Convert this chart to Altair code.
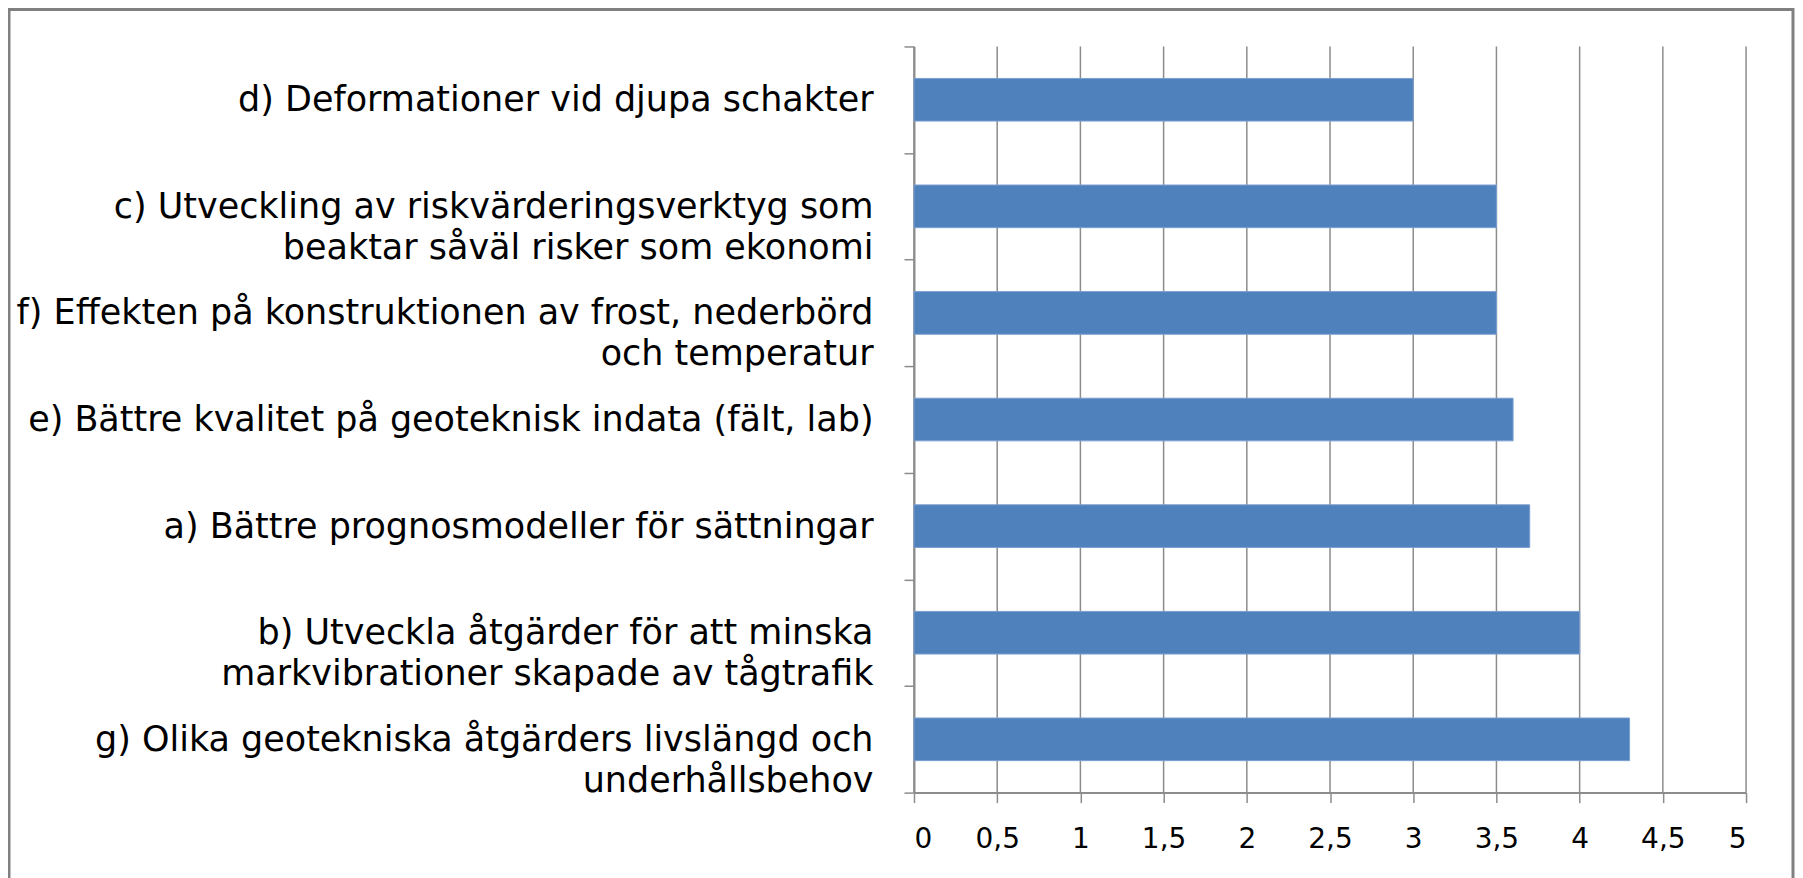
import altair as alt
import pandas as pd

categories = [
    "d) Deformationer vid djupa schakter",
    "c) Utveckling av riskvärderingsverktyg som|beaktar såväl risker som ekonomi",
    "f) Effekten på konstruktionen av frost, nederbörd|och temperatur",
    "e) Bättre kvalitet på geoteknisk indata (fält, lab)",
    "a) Bättre prognosmodeller för sättningar",
    "b) Utveckla åtgärder för att minska|markvibrationer skapade av tågtrafik",
    "g) Olika geotekniska åtgärders livslängd och|underhållsbehov",
]
values = [3.0, 3.5, 3.5, 3.6, 3.7, 4.0, 4.3]
x_ticks = [0, 0.5, 1, 1.5, 2, 2.5, 3, 3.5, 4, 4.5, 5]

df = pd.DataFrame({"kategori": categories, "varde": values})
grid_df = pd.DataFrame({"tick": x_ticks})

FONT = "DejaVu Sans"
GRAY = "#8c8c8c"
W, H = 1786, 875
X0, X1 = 906, 1739
Y0, Y1 = 37, 784

x_scale = alt.Scale(domain=[0, 5], range=[X0, X1], nice=False)
y_scale = alt.Scale(range=[Y0, Y1], paddingInner=0, paddingOuter=0)

x_axis = alt.Axis(
    title=None,
    values=x_ticks,
    labelExpr="replace(toString(datum.value), '.', ',')",
    grid=False,
    domainColor=GRAY,
    domainWidth=2,
    tickColor=GRAY,
    tickWidth=1.5,
    tickSize=10,
    labelFont=FONT,
    labelFontSize=28,
    labelColor="#000000",
    labelBaseline="middle",
    labelPadding=37,
    offset=-(H - Y1),
)

y_axis = alt.Axis(
    title=None,
    grid=False,
    tickBand="extent",
    domainColor=GRAY,
    domainWidth=2,
    tickColor=GRAY,
    tickWidth=1.5,
    tickSize=10,
    labelExpr="split(datum.label, '|')",
    labelFont=FONT,
    labelFontSize=35,
    labelLineHeight=41,
    labelColor="#000000",
    labelAlign="right",
    labelBaseline="middle",
    labelPadding=31,
    labelLimit=0,
    offset=-X0,
)

grid = (
    alt.Chart(grid_df)
    .mark_rule(color=GRAY, strokeWidth=1.5)
    .encode(
        x=alt.X("tick:Q", scale=x_scale, axis=x_axis),
        y=alt.value(Y0),
        y2=alt.value(Y1),
    )
)

bars = (
    alt.Chart(df)
    .mark_bar(color="#4F81BD", stroke="#7b9fd0", strokeWidth=1,
              height=alt.RelativeBandSize(0.4))
    .encode(
        x=alt.X("varde:Q", scale=x_scale, axis=x_axis),
        y=alt.Y("kategori:N", sort=None, scale=y_scale, axis=y_axis),
    )
)

chart = (
    alt.layer(grid, bars)
    .properties(
        width=W,
        height=H,
        autosize=alt.AutoSizeParams(type="none"),
        padding={"left": 1, "top": 1, "right": 2, "bottom": 0},
        background="white",
    )
    .configure_view(stroke="#808080", strokeWidth=3)
)

chart.save("out.html", embed_options={"renderer": "svg", "actions": False})
